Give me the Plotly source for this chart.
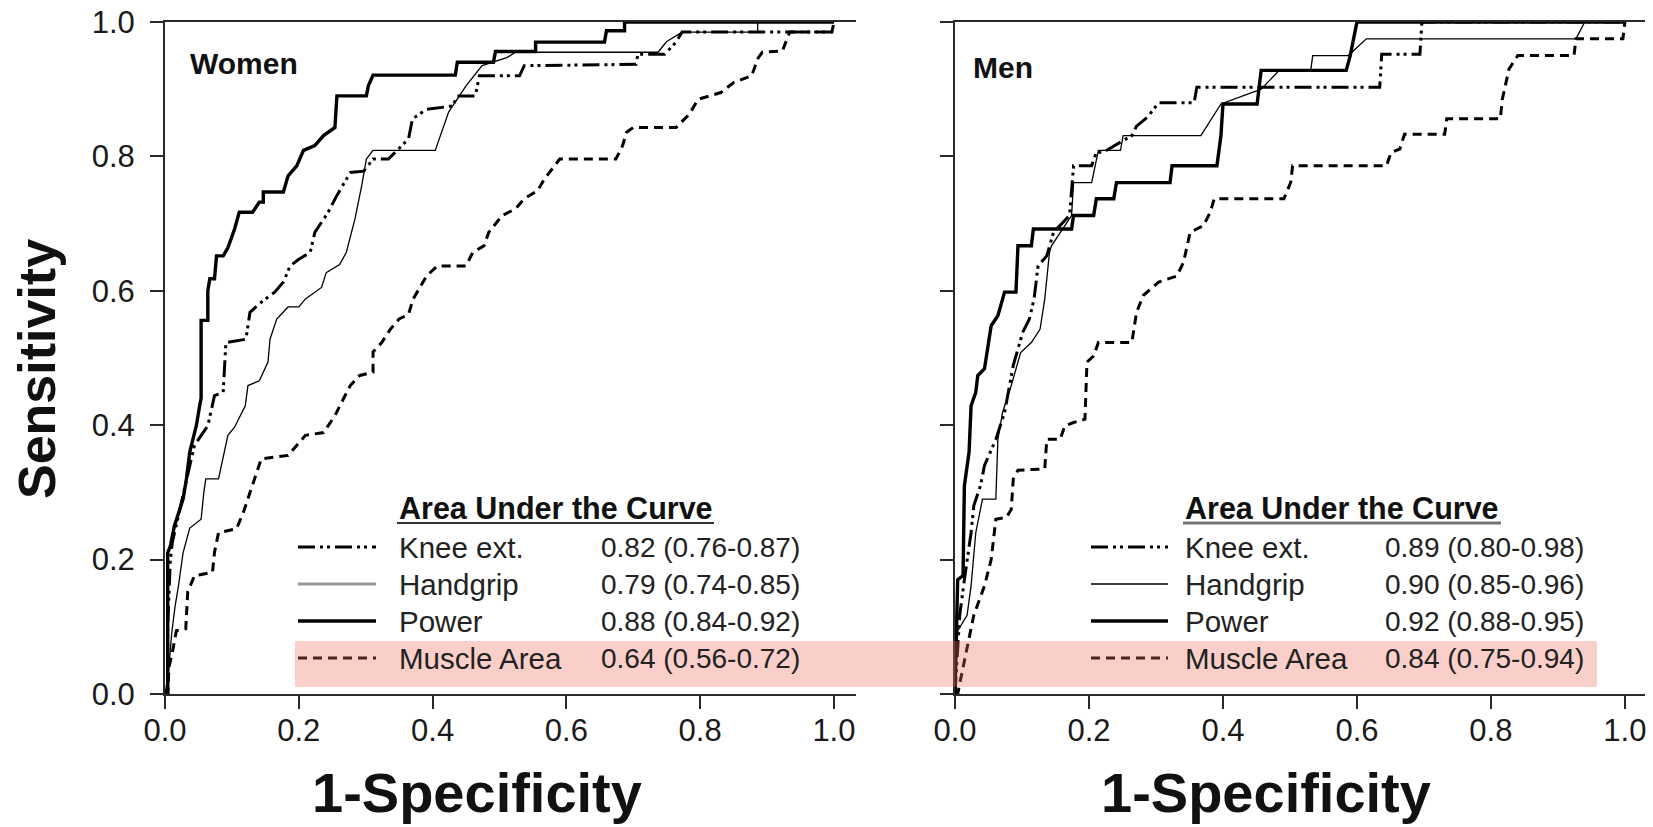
import plotly.graph_objects as go

W, H = 1653, 827

# ---------------- ROC curve data (1-specificity, sensitivity) ----------------
women_knee_x = [0, 0.004, 0.004, 0.008, 0.011, 0.021, 0.031, 0.044, 0.064, 0.074, 0.087, 0.091, 0.121, 0.127,
                0.144, 0.164, 0.177, 0.187, 0.2, 0.217, 0.224, 0.244, 0.257, 0.277, 0.297, 0.311, 0.334, 0.364,
                0.37, 0.391, 0.43, 0.437, 0.464, 0.47, 0.53, 0.537, 0.704, 0.707, 0.747, 0.764, 0.773, 0.997, 1.0]
women_knee_y = [0, 0.0, 0.1, 0.2, 0.226, 0.27, 0.315, 0.37, 0.399, 0.444, 0.449, 0.523, 0.528, 0.568,
                0.583, 0.598, 0.613, 0.637, 0.647, 0.657, 0.687, 0.717, 0.742, 0.776, 0.778, 0.796, 0.796, 0.826,
                0.856, 0.87, 0.875, 0.89, 0.89, 0.92, 0.92, 0.935, 0.937, 0.952, 0.952, 0.97, 0.985, 0.985, 1.0]

women_grip_x = [0, 0.005, 0.01, 0.015, 0.02, 0.027, 0.037, 0.054, 0.058, 0.061, 0.08, 0.084, 0.094, 0.104,
                0.12, 0.124, 0.141, 0.154, 0.157, 0.167, 0.184, 0.2, 0.21, 0.234, 0.241, 0.261, 0.271, 0.284,
                0.294, 0.301, 0.311, 0.404, 0.424, 0.45, 0.474, 0.511, 0.524, 0.737, 0.75, 0.773, 0.886, 0.886, 1.0]
women_grip_y = [0, 0.03, 0.09, 0.13, 0.16, 0.21, 0.247, 0.26, 0.30, 0.32, 0.32, 0.34, 0.385, 0.397,
                0.429, 0.459, 0.466, 0.494, 0.528, 0.558, 0.576, 0.576, 0.588, 0.605, 0.627, 0.639, 0.657, 0.707,
                0.756, 0.796, 0.809, 0.809, 0.866, 0.905, 0.935, 0.947, 0.955, 0.955, 0.971, 0.985, 0.985, 1.0, 1.0]

women_power_x = [0, 0.004, 0.004, 0.008, 0.014, 0.02, 0.027, 0.032, 0.037, 0.042, 0.047, 0.052, 0.054, 0.054,
                 0.064, 0.064, 0.067, 0.074, 0.077, 0.087, 0.094, 0.104, 0.111, 0.131, 0.141, 0.147, 0.147,
                 0.177, 0.184, 0.197, 0.207, 0.224, 0.237, 0.254, 0.257, 0.301, 0.304, 0.311, 0.434, 0.437,
                 0.491, 0.494, 0.554, 0.554, 0.657, 0.66, 0.687, 0.687, 1.0]
women_power_y = [0, 0, 0.21, 0.22, 0.25, 0.27, 0.29, 0.32, 0.36, 0.38, 0.40, 0.43, 0.44, 0.556,
                 0.556, 0.60, 0.618, 0.618, 0.652, 0.652, 0.664, 0.692, 0.717, 0.717, 0.732, 0.732, 0.747,
                 0.747, 0.771, 0.786, 0.809, 0.816, 0.831, 0.843, 0.89, 0.89, 0.905, 0.921, 0.921, 0.94,
                 0.94, 0.956, 0.956, 0.97, 0.97, 0.987, 0.987, 1.0, 1.0]

women_muscle_x = [0, 0.004, 0.006, 0.011, 0.017, 0.031, 0.034, 0.044, 0.071, 0.074, 0.08, 0.107, 0.117, 0.124,
                  0.134, 0.144, 0.184, 0.197, 0.21, 0.237, 0.254, 0.264, 0.277, 0.291, 0.311, 0.311, 0.324,
                  0.337, 0.35, 0.364, 0.371, 0.391, 0.407, 0.45, 0.46, 0.477, 0.484, 0.504, 0.524, 0.537, 0.557,
                  0.567, 0.59, 0.674, 0.684, 0.69, 0.7, 0.764, 0.784, 0.797, 0.831, 0.85, 0.877, 0.887, 0.893,
                  0.923, 0.934, 0.997]
women_muscle_y = [0, 0.0, 0.04, 0.062, 0.094, 0.097, 0.152, 0.176, 0.181, 0.211, 0.24, 0.246, 0.27, 0.29,
                  0.32, 0.35, 0.355, 0.37, 0.385, 0.389, 0.414, 0.434, 0.459, 0.474, 0.479, 0.509, 0.523,
                  0.543, 0.558, 0.565, 0.588, 0.622, 0.637, 0.637, 0.657, 0.667, 0.687, 0.712, 0.722, 0.737, 0.749,
                  0.766, 0.796, 0.796, 0.816, 0.836, 0.843, 0.843, 0.863, 0.885, 0.895, 0.91, 0.92, 0.947, 0.955,
                  0.957, 0.985, 0.985]

men_knee_x = [0, 0.003, 0.007, 0.014, 0.024, 0.028, 0.038, 0.044, 0.061, 0.074, 0.087, 0.101, 0.111, 0.118,
              0.124, 0.137, 0.147, 0.171, 0.177, 0.204, 0.211, 0.221, 0.264, 0.271, 0.287, 0.304, 0.357, 0.361,
              0.634, 0.637, 0.694, 0.697, 1.0]
men_knee_y = [0, 0.05, 0.117, 0.17, 0.24, 0.28, 0.31, 0.34, 0.379, 0.419, 0.489, 0.538, 0.558, 0.588,
              0.637, 0.652, 0.687, 0.712, 0.786, 0.786, 0.806, 0.806, 0.831, 0.845, 0.858, 0.88, 0.88, 0.903,
              0.903, 0.952, 0.952, 1.0, 1.0]

men_grip_x = [0, 0.003, 0.004, 0.018, 0.024, 0.031, 0.041, 0.061, 0.064, 0.071, 0.084, 0.098, 0.114, 0.127,
              0.134, 0.141, 0.144, 0.174, 0.177, 0.204, 0.214, 0.247, 0.251, 0.367, 0.397, 0.457, 0.484,
              0.531, 0.534, 0.587, 0.614, 0.927, 0.94, 1.0]
men_grip_y = [0, 0.06, 0.094, 0.117, 0.161, 0.24, 0.29, 0.29, 0.379, 0.419, 0.459, 0.508, 0.523, 0.543,
              0.588, 0.657, 0.667, 0.712, 0.761, 0.761, 0.809, 0.809, 0.831, 0.831, 0.878, 0.9, 0.928,
              0.928, 0.95, 0.95, 0.975, 0.975, 1.0, 1.0]

men_power_x = [0, 0.002, 0.004, 0.012, 0.014, 0.021, 0.024, 0.031, 0.034, 0.044, 0.054, 0.064, 0.074, 0.091,
               0.094, 0.114, 0.117, 0.174, 0.177, 0.207, 0.211, 0.237, 0.241, 0.321, 0.324, 0.391, 0.397, 0.4,
               0.451, 0.457, 0.584, 0.59, 0.6, 1.0]
men_power_y = [0, 0.08, 0.17, 0.176, 0.31, 0.36, 0.429, 0.449, 0.474, 0.484, 0.548, 0.563, 0.598, 0.598,
               0.667, 0.667, 0.692, 0.692, 0.712, 0.712, 0.737, 0.737, 0.761, 0.761, 0.786, 0.786, 0.831, 0.878,
               0.878, 0.928, 0.928, 0.95, 1.0, 1.0]

men_muscle_x = [0, 0.004, 0.008, 0.018, 0.028, 0.044, 0.054, 0.061, 0.077, 0.084, 0.087, 0.094, 0.134, 0.137,
                0.157, 0.164, 0.177, 0.194, 0.197, 0.207, 0.214, 0.264, 0.271, 0.281, 0.304, 0.331, 0.341,
                0.351, 0.371, 0.381, 0.387, 0.491, 0.501, 0.504, 0.644, 0.651, 0.664, 0.671, 0.731, 0.734,
                0.814, 0.817, 0.827, 0.84, 0.924, 0.927, 0.997, 1.0]
men_muscle_y = [0, 0.0, 0.02, 0.067, 0.117, 0.161, 0.2, 0.26, 0.263, 0.275, 0.32, 0.333, 0.335, 0.379,
                0.379, 0.399, 0.404, 0.409, 0.494, 0.503, 0.523, 0.523, 0.568, 0.593, 0.613, 0.622, 0.642,
                0.687, 0.697, 0.717, 0.737, 0.737, 0.761, 0.786, 0.786, 0.806, 0.811, 0.833, 0.833, 0.856,
                0.856, 0.885, 0.93, 0.95, 0.95, 0.975, 0.975, 1.0]

# ---------------- legend text ----------------
measures = ["Knee ext.", "Handgrip", "Power", "Muscle Area"]
women_auc = ["0.82 (0.76-0.87)", "0.79 (0.74-0.85)", "0.88 (0.84-0.92)", "0.64 (0.56-0.72)"]
men_auc = ["0.89 (0.80-0.98)", "0.90 (0.85-0.96)", "0.92 (0.88-0.95)", "0.84 (0.75-0.94)"]
legend_title = "Area Under the Curve"
panel_titles = ["Women", "Men"]
x_title = "1-Specificity"
y_title = "Sensitivity"
tick_vals = [0.0, 0.2, 0.4, 0.6, 0.8, 1.0]

# line styles per measure
KNEE_DASH = "17px,5px,3px,4px,3px,5px"
MUSCLE_DASH = "9px,6px"
styles = {
    "Knee ext.": dict(color="black", width=3, dash=KNEE_DASH),
    "Handgrip": dict(color="black", width=1.3, dash="solid"),
    "Power": dict(color="black", width=3.4, dash="solid"),
    "Muscle Area": dict(color="black", width=3, dash=MUSCLE_DASH),
}

FONT = "Liberation Sans, Arial, Helvetica, sans-serif"
AXIS_COLOR = "#2a2a2a"


def px(x):
    return x / W


def py(y):
    return 1 - y / H


fig = go.Figure()

panels = [
    ("x", "y", [(women_knee_x, women_knee_y), (women_grip_x, women_grip_y),
                (women_power_x, women_power_y), (women_muscle_x, women_muscle_y)]),
    ("x2", "y2", [(men_knee_x, men_knee_y), (men_grip_x, men_grip_y),
                  (men_power_x, men_power_y), (men_muscle_x, men_muscle_y)]),
]
for xa, ya, curves in panels:
    for name, (cx, cy) in zip(measures, curves):
        fig.add_trace(go.Scatter(x=cx, y=cy, mode="lines", xaxis=xa, yaxis=ya,
                                 line=styles[name], showlegend=False, hoverinfo="skip"))

axis_common = dict(
    showgrid=False, zeroline=False, showline=True, linecolor=AXIS_COLOR, linewidth=2,
    ticks="outside", ticklen=13, tickwidth=2, tickcolor=AXIS_COLOR, automargin=False,
    tickfont=dict(family=FONT, size=31, color="#1a1a1a"),
    tickvals=tick_vals, tickformat=".1f",
)
x_axis = dict(axis_common, ticklabelstandoff=-5, mirror=True)
y_axis = dict(axis_common, ticklabelstandoff=9)

y0, y1 = py(694), py(22)
fig.update_layout(
    width=W, height=H, margin=dict(l=0, r=0, t=0, b=0, autoexpand=False),
    paper_bgcolor="white", plot_bgcolor="white",
    xaxis=dict(x_axis, domain=[px(165), px(856)], range=[0, 1.033], anchor="y"),
    yaxis=dict(y_axis, domain=[y0, y1], range=[0, 1], anchor="x"),
    xaxis2=dict(x_axis, domain=[px(955), px(1645)], range=[0, 1.03], anchor="y2"),
    yaxis2=dict(y_axis, domain=[y0, y1], range=[0, 1], anchor="x2", showticklabels=False),
)

ann = []
# axis titles (sitting on the bottom edge)
for cx in (477, 1266):
    ann.append(dict(x=px(cx), y=0, xref="paper", yref="paper", text=f"<b>{x_title}</b>",
                    showarrow=False, font=dict(family=FONT, size=56, color="#111"),
                    xanchor="center", yanchor="bottom", yshift=1))
ann.append(dict(x=px(37), y=py(369), xref="paper", yref="paper", text=f"<b>{y_title}</b>",
                showarrow=False, textangle=-90, font=dict(family=FONT, size=52, color="#111"),
                xanchor="center", yanchor="middle"))
# panel labels
ann.append(dict(x=px(188), y=py(63), xref="paper", yref="paper", text=f"<b>{panel_titles[0]}</b>",
                showarrow=False, font=dict(family=FONT, size=30, color="#111"),
                xanchor="left", yanchor="middle"))
ann.append(dict(x=px(971), y=py(68), xref="paper", yref="paper", text=f"<b>{panel_titles[1]}</b>",
                showarrow=False, font=dict(family=FONT, size=30, color="#111"),
                xanchor="left", yanchor="middle"))

shapes = []
row_y = [547, 584, 621, 658]
legends = [
    dict(line_x=(298, 376), name_x=397, val_x=599, aucs=women_auc, ul=(397, 714), ul_color="#333",
         ul_w=2, grip_color="#999", grip_w=3),
    dict(line_x=(1091, 1168), name_x=1183, val_x=1383, aucs=men_auc, ul=(1183, 1501), ul_color="#777",
         ul_w=3, grip_color="black", grip_w=1.5),
]
for lg in legends:
    ann.append(dict(x=px(lg["name_x"]), y=py(508), xref="paper", yref="paper",
                    text=f"<b>{legend_title}</b>", showarrow=False,
                    font=dict(family=FONT, size=30.5, color="#111"), xanchor="left", yanchor="middle"))
    shapes.append(dict(type="line", xref="paper", yref="paper", x0=px(lg["ul"][0]), x1=px(lg["ul"][1]),
                       y0=py(523), y1=py(523), line=dict(color=lg["ul_color"], width=lg["ul_w"])))
    for name, auc, ry in zip(measures, lg["aucs"], row_y):
        st = dict(styles[name])
        if name == "Handgrip":
            st = dict(color=lg["grip_color"], width=lg["grip_w"], dash="solid")
        shapes.append(dict(type="line", xref="paper", yref="paper", x0=px(lg["line_x"][0]),
                           x1=px(lg["line_x"][1]), y0=py(ry), y1=py(ry), line=st))
        ann.append(dict(x=px(lg["name_x"]), y=py(ry), xref="paper", yref="paper", text=name,
                        showarrow=False, font=dict(family=FONT, size=29.5, color="#222"),
                        xanchor="left", yanchor="middle"))
        ann.append(dict(x=px(lg["val_x"]), y=py(ry), xref="paper", yref="paper", text=auc,
                        showarrow=False, font=dict(family=FONT, size=28, color="#222"),
                        xanchor="left", yanchor="middle"))

# highlight band across the Muscle Area rows
shapes.append(dict(type="rect", xref="paper", yref="paper", x0=px(295), x1=px(1597),
                   y0=py(687), y1=py(641), line=dict(width=0),
                   fillcolor="rgba(240,110,90,0.33)", layer="above"))

fig.update_layout(annotations=ann, shapes=shapes)
fig.write_html("out.html")
